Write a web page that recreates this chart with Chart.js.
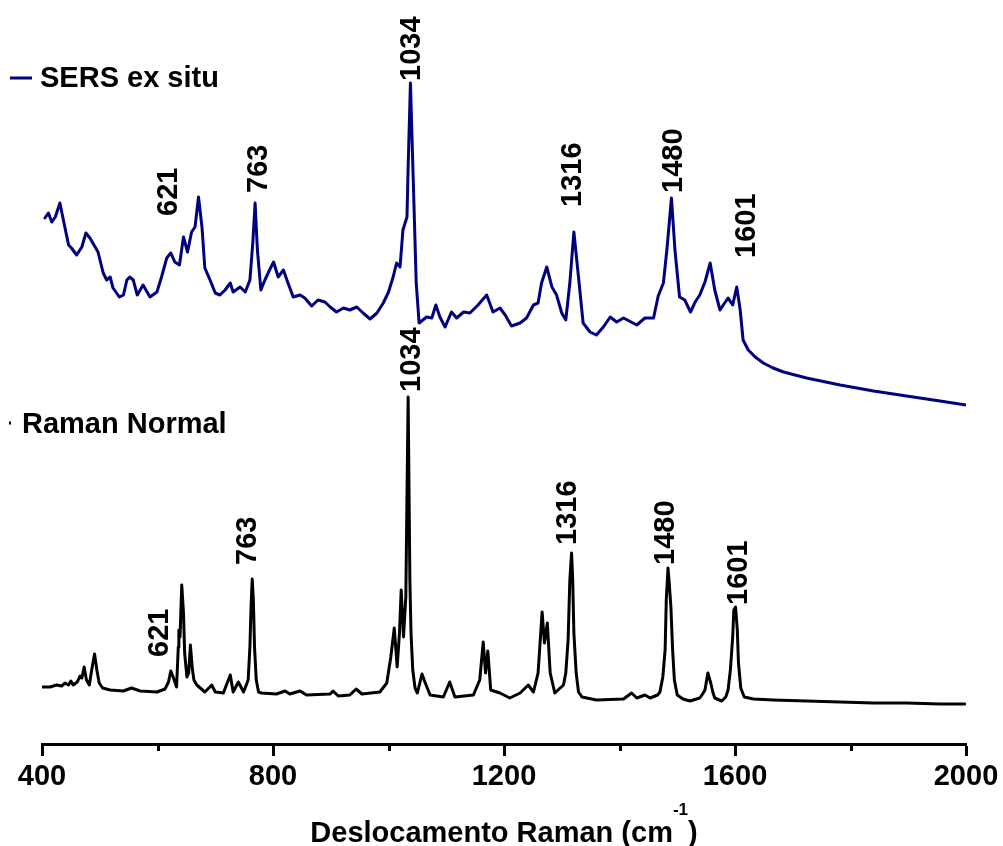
<!DOCTYPE html>
<html>
<head>
<meta charset="utf-8">
<script src="https://cdn.jsdelivr.net/npm/chart.js@4/dist/chart.umd.min.js"></script>
<style>
html,body{margin:0;padding:0;background:#fff;}
#wrap{width:1003px;height:846px;}
</style>
</head>
<body>
<div id="wrap"><canvas id="c" width="1003" height="846"></canvas></div>
<script>
// ---- Data (Raman shift in cm-1, intensity in arbitrary units) ----
const sersX = [405,411,417,423,431,437,446,451,460,469,476,483,492,497,506,512,518,523,534,541,547,552,558,565,575,587,599,607,616,623,630,638,645,652,659,665,671,677,682,691,700,708,717,726,731,743,752,760,765,769,773,779,786,794,801,809,818,826,835,847,855,867,878,890,899,910,922,933,945,956,968,980,991,1000,1008,1014,1020,1025,1032,1034,1038,1043,1048,1053,1066,1075,1082,1089,1098,1109,1118,1130,1141,1155,1170,1181,1193,1202,1213,1228,1239,1251,1259,1265,1274,1283,1291,1300,1307,1314,1321,1329,1337,1349,1360,1372,1384,1395,1407,1430,1444,1459,1467,1476,1482,1490,1496,1504,1513,1523,1531,1539,1548,1557,1565,1574,1582,1588,1596,1603,1609,1614,1623,1635,1649,1666,1684,1724,1782,1840,1897,1955,2000];
const sersY = [525,530,521,526,540,523,498,495,488,496,510,505,496,491,470,463,466,455,446,448,463,466,463,448,458,446,451,466,485,490,481,478,506,491,511,516,546,516,475,463,450,448,453,460,451,456,451,463,500,540,493,453,463,473,481,466,473,460,446,448,445,437,443,441,436,431,435,433,436,430,424,430,440,451,466,480,476,513,526,576,660,560,460,420,426,425,438,426,416,431,425,431,430,438,448,431,435,428,417,420,425,438,440,460,476,456,448,430,423,460,511,466,420,411,408,416,426,421,425,418,425,425,447,460,493,545,493,446,443,431,441,448,461,480,453,433,440,445,438,456,433,403,393,386,380,375,371,365,358,352,347,342,338];

const ramanX = [401,414,425,434,440,446,450,454,461,466,469,473,477,482,486,491,495,499,505,518,541,555,570,599,613,619,623,629,633,636,637,639,642,645,647,651,654,657,660,663,668,682,694,700,714,726,731,740,749,757,760,762,764,766,768,771,775,780,806,821,829,847,858,899,904,913,933,944,954,985,997,1004,1010,1015,1019,1022,1026,1030,1034,1037,1039,1042,1046,1050,1058,1063,1072,1095,1106,1115,1147,1158,1164,1168,1172,1177,1193,1210,1228,1242,1251,1259,1266,1270,1275,1280,1288,1303,1307,1311,1314,1317,1319,1321,1325,1329,1335,1360,1407,1421,1430,1444,1453,1466,1470,1475,1479,1481,1484,1486,1489,1492,1495,1500,1510,1522,1539,1545,1548,1553,1558,1562,1565,1577,1584,1588,1592,1596,1598,1601,1604,1606,1610,1616,1632,1666,1724,1782,1840,1897,1955,1998];
const ramanY = [56,56,58,57,60,58,62,58,61,67,65,76,63,58,73,89,73,60,55,53,52,55,52,51,54,61,72,63,56,96,113,106,158,130,90,66,70,98,76,63,58,51,58,51,50,68,51,61,51,63,96,136,164,143,96,63,51,50,49,52,49,52,48,49,52,47,48,54,49,51,60,86,115,76,110,153,106,146,346,163,110,73,55,50,69,61,48,46,61,46,48,63,101,70,92,53,50,45,50,58,51,70,131,100,120,70,50,58,70,103,163,190,163,110,70,51,46,43,44,50,45,48,45,48,51,66,93,143,175,161,136,93,63,48,44,42,45,50,53,70,60,50,45,42,46,53,73,106,133,136,113,80,55,46,44,43,42,41,40,40,39,39];

// Peak annotations (label text, anchored in data coordinates)
const peakLabels = ['621','763','1034','1316','1480','1601'];
const sersLabelX = [615,771,1037,1316,1491,1616];
const sersLabelY = [527,550,662,536,550,485];
const ramanLabelX = [601,753,1037,1307,1477,1602];
const ramanLabelY = [86,178,351,198,178,138];

// Axis
const xMin = 400, xMax = 2000, xStep = 200;
const xMajorEvery = 400;
const seriesNames = ['SERS ex situ','Raman Normal'];
const axisTitle = ['Deslocamento Raman (cm', '-1', ')'];

const FONT = '"Liberation Sans", Arial, Helvetica, sans-serif';

const overlay = {
  id: 'overlay',
  afterDraw(chart) {
    const ctx = chart.ctx;
    const xs = chart.scales.x, ys = chart.scales.y;
    ctx.save();
    // minor ticks
    ctx.strokeStyle = '#000';
    ctx.lineWidth = 3;
    for (let v = xMin; v <= xMax; v += xStep) {
      if (v % xMajorEvery === 0) continue;
      const px = Math.round(xs.getPixelForValue(v)) + 0.5;
      ctx.beginPath();
      ctx.moveTo(px, xs.top);
      ctx.lineTo(px, xs.top + 7);
      ctx.stroke();
    }
    // peak labels
    ctx.fillStyle = '#000';
    const fs = 29;
    ctx.font = 'bold ' + fs + 'px ' + FONT;
    const capH = fs * 0.716;
    function vlabel(t, wx, wy) {
      const px = xs.getPixelForValue(wx), py = ys.getPixelForValue(wy);
      ctx.save();
      ctx.translate(px, py);
      ctx.rotate(-Math.PI / 2);
      ctx.textAlign = 'left';
      ctx.textBaseline = 'alphabetic';
      ctx.fillText(t, 0, capH / 2);
      ctx.restore();
    }
    peakLabels.forEach((t, i) => vlabel(t, sersLabelX[i], sersLabelY[i]));
    peakLabels.forEach((t, i) => vlabel(t, ramanLabelX[i], ramanLabelY[i]));

    // legend entries
    ctx.textAlign = 'left';
    ctx.textBaseline = 'alphabetic';
    ctx.strokeStyle = chart.data.datasets[0].borderColor;
    ctx.lineWidth = 3;
    ctx.beginPath(); ctx.moveTo(10, 78); ctx.lineTo(32, 78); ctx.stroke();
    ctx.fillText(seriesNames[0], 40, 87);
    ctx.strokeStyle = chart.data.datasets[1].borderColor;
    ctx.beginPath(); ctx.moveTo(9, 423); ctx.lineTo(11, 423); ctx.stroke();
    ctx.fillText(seriesNames[1], 22, 433);

    // axis title with superscript
    const f1 = 'bold 29px ' + FONT, f2 = 'bold 17px ' + FONT;
    ctx.font = f1; const w1 = ctx.measureText(axisTitle[0]).width;
    const w3 = ctx.measureText(axisTitle[2]).width;
    ctx.font = f2; const w2 = ctx.measureText(axisTitle[1]).width;
    const total = w1 + w2 + w3;
    let sx = (chart.chartArea.left + chart.chartArea.right) / 2 - total / 2;
    ctx.font = f1; ctx.fillText(axisTitle[0], sx, 842);
    ctx.font = f2; ctx.fillText(axisTitle[1], sx + w1, 815);
    ctx.font = f1; ctx.fillText(axisTitle[2], sx + w1 + w2, 842);
    ctx.restore();
  }
};

new Chart(document.getElementById('c'), {
  type: 'line',
  data: {
    datasets: [
      { label: seriesNames[0], data: sersX.map((v, i) => ({x: v, y: sersY[i]})),
        borderColor: '#000080', borderWidth: 3, pointRadius: 0, tension: 0,
        borderJoinStyle: 'round', borderCapStyle: 'round', fill: false },
      { label: seriesNames[1], data: ramanX.map((v, i) => ({x: v, y: ramanY[i]})),
        borderColor: '#000000', borderWidth: 3, pointRadius: 0, tension: 0,
        borderJoinStyle: 'round', borderCapStyle: 'round', fill: false }
    ]
  },
  options: {
    responsive: false,
    animation: false,
    layout: { padding: { left: 42, right: 37, top: 0, bottom: 0 } },
    plugins: { legend: { display: false }, tooltip: { enabled: false }, title: { display: false } },
    scales: {
      x: {
        type: 'linear', position: 'bottom', min: xMin, max: xMax,
        afterFit(s) { s.height = 102; },
        grid: {
          display: true, drawOnChartArea: false, drawTicks: true, tickLength: 12, tickWidth: 3,
          tickColor: c => (c.tick && c.tick.value % xMajorEvery === 0) ? '#000' : 'rgba(0,0,0,0)'
        },
        border: { display: true, color: '#000', width: 3 },
        ticks: {
          stepSize: xStep, autoSkip: false, maxRotation: 0, minRotation: 0, padding: 4,
          color: '#000', font: { family: FONT, size: 29, weight: 'bold' },
          callback: v => (v % xMajorEvery === 0) ? String(v) : ''
        }
      },
      y: { display: false, min: -1, max: 743 }
    }
  },
  plugins: [overlay]
});
</script>
</body>
</html>
